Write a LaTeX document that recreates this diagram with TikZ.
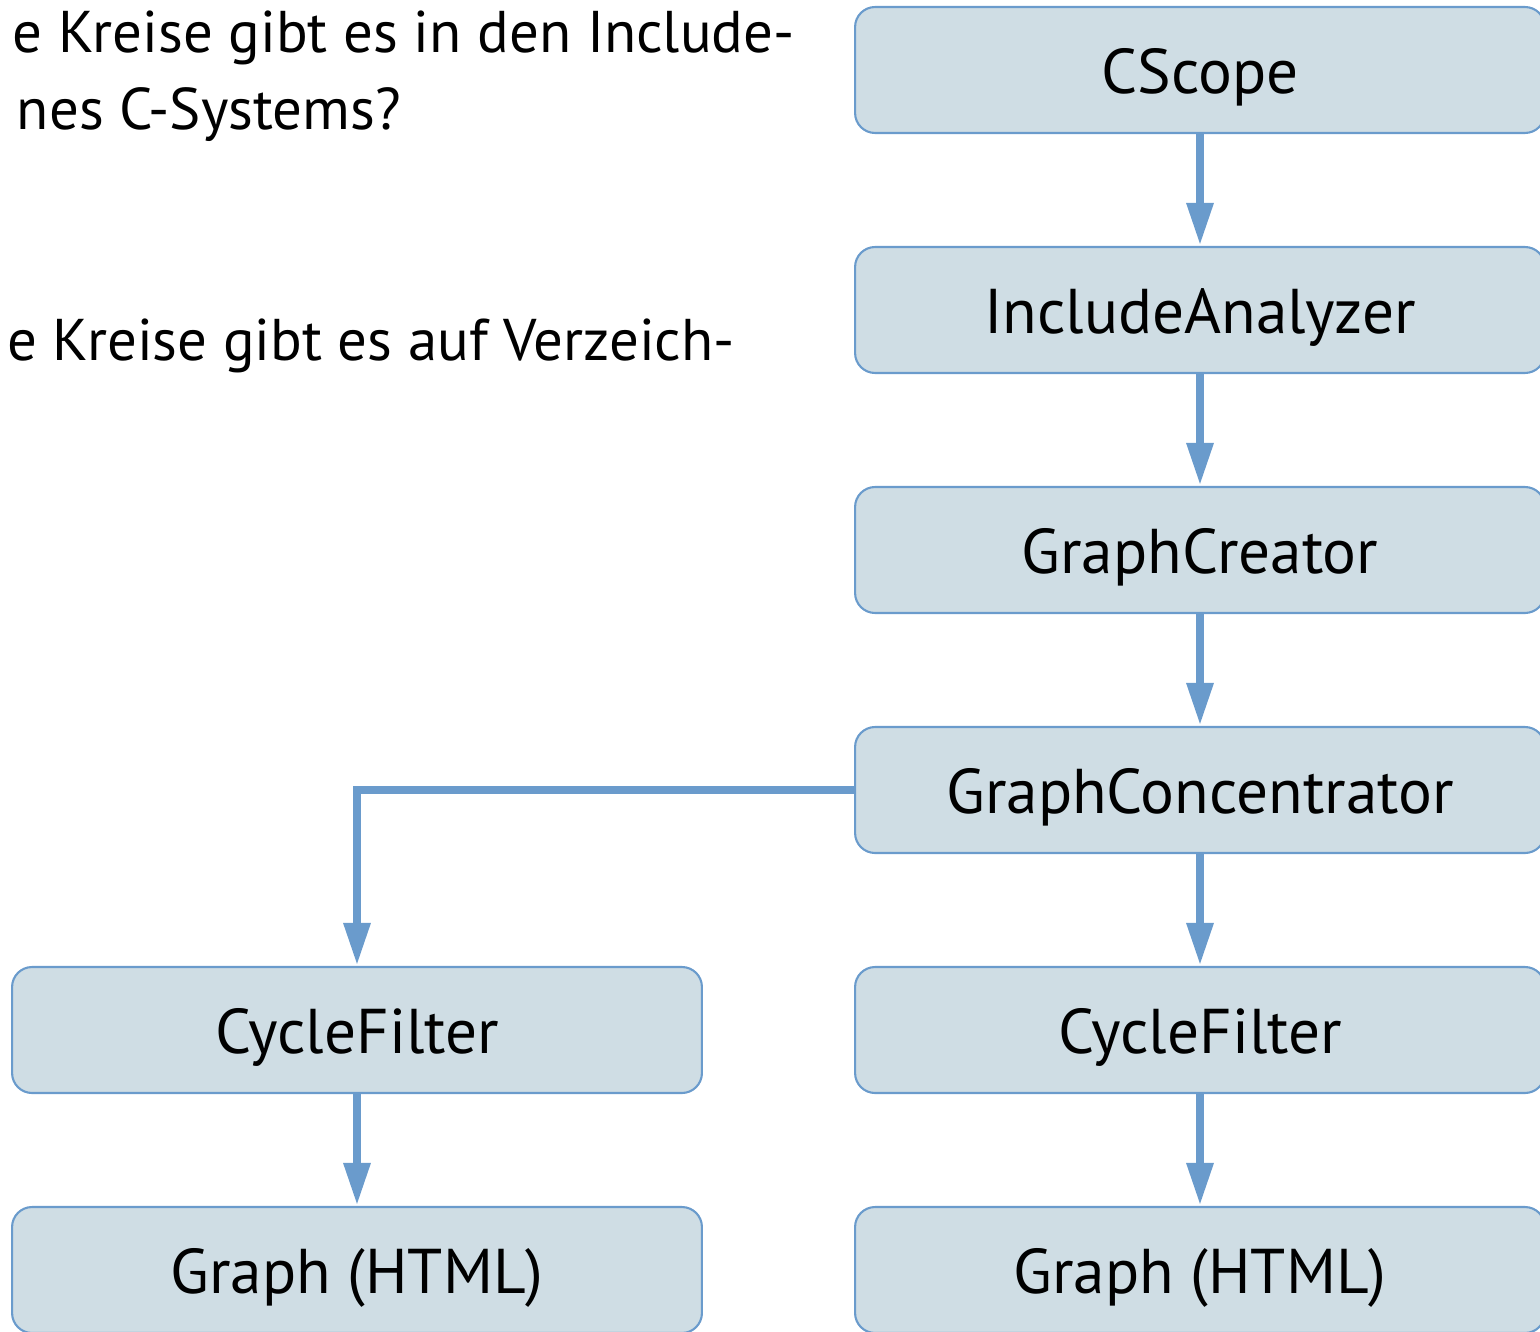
\documentclass[tikz,border=0pt]{standalone}
\usepackage{fontspec}
\setmainfont{PT Sans}
\usetikzlibrary{arrows.meta}
\usetikzlibrary{shapes}

\definecolor{boxfill}{HTML}{CFDDE4}
\definecolor{boxline}{HTML}{6A9BCC}

\begin{document}
\begin{tikzpicture}[x = 0.02cm, y = -0.02cm]
	\tikzstyle{boxStyle} = [draw = boxline, fill = boxfill, line width = 1.2pt, rounded corners = 0.4cm, minimum width = 13.8cm, minimum height = 2.52cm, inner sep = 0pt, text height = 27pt, text depth = 0pt, font = \fontsize{36}{40}\selectfont]
	\tikzstyle{flowStyle} = [draw = boxline, line width = 5pt, -{Triangle[length = 0.86cm, width = 0.5cm]}]
	\tikzstyle{textStyle} = [anchor = base east, inner sep = 0pt, font = \fontsize{33.5}{37}\selectfont]
	\useasboundingbox (0, 0) rectangle (1540, 1331);
	\node[textStyle] (q1) at (795, 53) {e Kreise gibt es in den Include-};
	\node[textStyle] (q2) at (401, 130) {nes C-Systems?};
	\node[textStyle] (q3) at (735, 360) {e Kreise gibt es auf Verzeich-};
	\node[boxStyle] (cscope) at (1200, 70) {CScope};
	\node[boxStyle] (analyzer) at (1200, 310) {IncludeAnalyzer};
	\node[boxStyle] (creator) at (1200, 550) {GraphCreator};
	\node[boxStyle] (concentrator) at (1200, 790) {GraphConcentrator};
	\node[boxStyle] (filterR) at (1200, 1030) {CycleFilter};
	\node[boxStyle] (filterL) at (357, 1030) {CycleFilter};
	\node[boxStyle] (htmlR) at (1200, 1270) {Graph (HTML)};
	\node[boxStyle] (htmlL) at (357, 1270) {Graph (HTML)};
	\draw[flowStyle] (cscope) -- (analyzer);
	\draw[flowStyle] (analyzer) -- (creator);
	\draw[flowStyle] (creator) -- (concentrator);
	\draw[flowStyle] (concentrator) -- (filterR);
	\draw[flowStyle] (concentrator.west) -| (filterL.north);
	\draw[flowStyle] (filterR) -- (htmlR);
	\draw[flowStyle] (filterL) -- (htmlL);
\end{tikzpicture}
\end{document}
